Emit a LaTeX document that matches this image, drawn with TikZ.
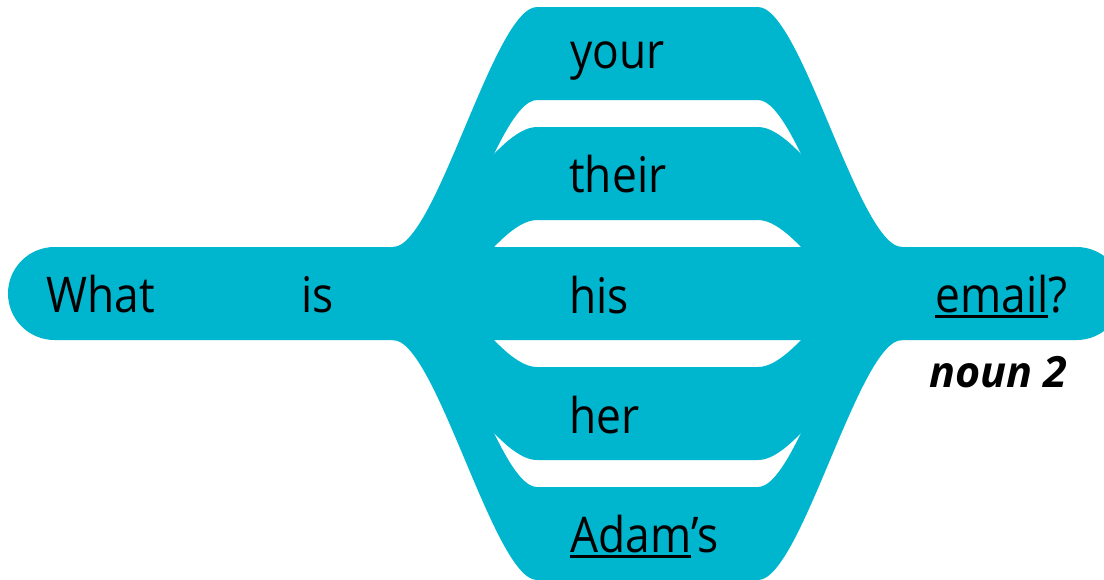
\documentclass[tikz,border=0pt]{standalone}
\usepackage{fontspec}
\setmainfont{Open Sans}[UprightFeatures={FakeStretch=0.9}]
\usetikzlibrary{positioning}
\definecolor{ribbon}{RGB}{0,181,206}
\newcommand{\ulword}[1]{\setbox0=\hbox{#1}\rlap{\rule[-0.12cm]{\wd0}{0.06cm}}\box0}

\begin{document}
\begin{tikzpicture}[x=0.02cm,y=-0.02cm,
  word/.style={anchor=base west,inner sep=0pt,font=\fontsize{28}{34}\selectfont},
  tag/.style={anchor=base west,inner sep=0pt,font=\fontsize{24.5}{29}\selectfont\bfseries\itshape}]
\useasboundingbox (0,0) rectangle (1104,579);
% main bar
\fill[ribbon,rounded corners=0.93cm](8,247) rectangle (1123,340);
% ribbons branching off and joining again
\foreach \t in {7,127,367,487}{
  \fill[ribbon](393,247) .. controls (436,247) and (494,\t) .. (537,\t) -- (758,\t)
    .. controls (801,\t) and (859,247) .. (902,247) -- (902,340)
    .. controls (859,340) and (801,\t+93) .. (758,\t+93) -- (537,\t+93)
    .. controls (494,\t+93) and (436,340) .. (393,340) -- cycle;
}
% words
\node[word](what) at (46,312){What};
\node[word](is) at (301,312){is};
\node[word](your) at (570,68){your};
\node[word](their) at (569,192){their};
\node[word](his) at (569,313){his};
\node[word](her) at (569,433){her};
\node[word](adam) at (570,552){\ulword{Adam}’s};
\node[word](email) at (935,312){\ulword{email}?};
\node[tag](noun) at (929,387){noun 2};
\end{tikzpicture}
\end{document}
